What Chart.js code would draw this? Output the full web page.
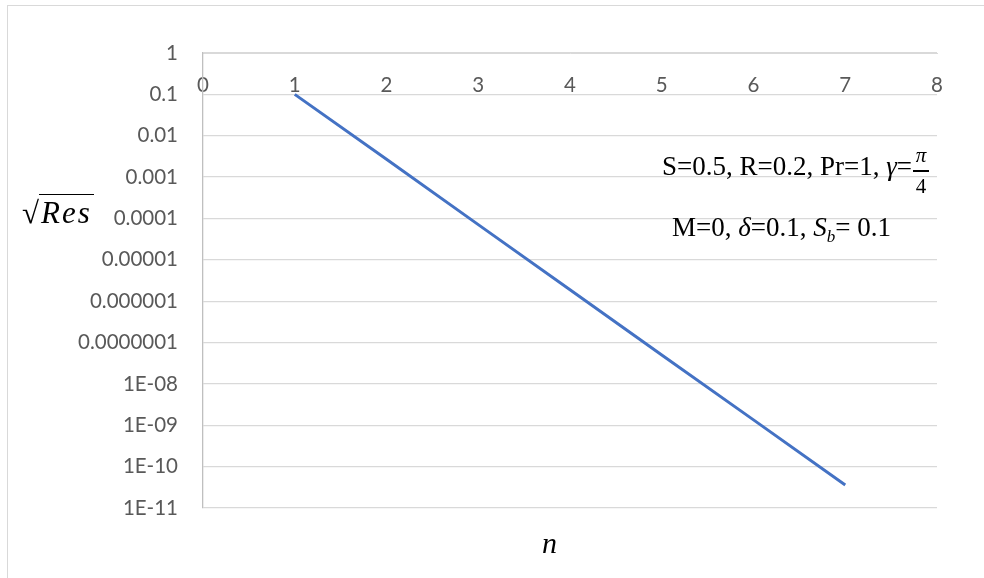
<!DOCTYPE html>
<html>
<head>
<meta charset="utf-8">
<script src="https://cdn.jsdelivr.net/npm/chart.js@4"></script>
<style>
  html, body { margin: 0; padding: 0; background: #fff; }
  #wrap { position: relative; width: 984px; height: 578px; overflow: hidden; }
  #frame { position: absolute; left: 7px; top: 5px; width: 1000px; height: 600px; border: 1px solid #d9d9d9; }
  #c { position: absolute; left: 0; top: 0; }
  .note { position: absolute; font-family: "Liberation Serif", serif; color: #000; white-space: nowrap; }
  .it { font-style: italic; }
  .frac { display: inline-block; position: relative; width: 16px; height: 0; vertical-align: baseline; margin-left: 1px; }
  .frac span { position: absolute; left: 0; width: 16px; text-align: center; font-size: 21px; line-height: 21px; }
  .frac .num { top: -30px; font-style: italic; }
  .frac .bar { top: -5px; height: 1.5px; background: #000; }
  .frac .den { top: 1px; }
</style>
</head>
<body>
<div id="wrap">
  <div id="frame"></div>
  <canvas id="c" width="984" height="578"></canvas>

  <div class="note" style="left:22px; top:197px; font-size:31px; line-height:31px;">√<span class="it" style="border-top:1.5px solid #000; padding:0 2px; letter-spacing:2px;">Res</span></div>

  <div class="note" style="left:662px; top:153px; font-size:27px; line-height:27px;">S=0.5, R=0.2, Pr=1, <span class="it">γ</span>=<span class="frac"><span class="num">π</span><span class="bar"></span><span class="den">4</span></span></div>

  <div class="note" style="left:672px; top:214px; font-size:27px; line-height:27px;">M=0, <span class="it">δ</span>=0.1, <span class="it">S<sub style="font-size:17px;">b</sub></span>= 0.1</div>

  <div class="note it" style="left:542px; top:528px; font-size:30px; line-height:30px;">n</div>
</div>

<script>
// sqrt(Res) against n, log scale on y
const nValues = [1, 2, 3, 4, 5, 6, 7];
const resValues = [0.1, 2.7e-3, 7.1e-5, 1.9e-6, 5.0e-8, 1.35e-9, 3.6e-11];

const xTickValues = [0, 1, 2, 3, 4, 5, 6, 7, 8];
const yTickValues = [1, 0.1, 0.01, 0.001, 1e-4, 1e-5, 1e-6, 1e-7, 1e-8, 1e-9, 1e-10, 1e-11];
const yTickLabels = ["1", "0.1", "0.01", "0.001", "0.0001", "0.00001", "0.000001",
  "0.0000001", "1E-08", "1E-09", "1E-10", "1E-11"];

const tickFont = { family: "Lato", size: 20.5 };
const tickColor = "#595959";
const gridColor = "#d9d9d9";

const ctx = document.getElementById("c");

new Chart(ctx, {
  type: "line",
  data: {
    datasets: [
      {
        data: nValues.map((n, i) => ({ x: n, y: resValues[i] })),
        borderColor: "#4472c4",
        borderWidth: 3,
        pointRadius: 0,
        tension: 0,
        fill: false,
      },
    ],
  },
  options: {
    responsive: false,
    animation: false,
    layout: { padding: { left: 0, right: 47, top: 53, bottom: 70 } },
    plugins: {
      legend: { display: false },
      tooltip: { enabled: false },
    },
    scales: {
      x: {
        type: "linear",
        min: 0,
        max: 8,
        position: { y: 1 },
        afterBuildTicks: (scale) => {
          scale.ticks = xTickValues.map((v) => ({ value: v }));
        },
        grid: { display: false, drawTicks: false },
        border: { display: true, color: gridColor },
        ticks: { padding: 20, font: tickFont, color: tickColor, maxRotation: 0, autoSkip: false },
      },
      y: {
        type: "logarithmic",
        min: 1e-11,
        max: 1,
        position: "left",
        afterBuildTicks: (scale) => {
          scale.ticks = yTickValues.map((v) => ({ value: v }));
        },
        afterFit: (scale) => {
          scale.width = 203;
        },
        grid: { color: gridColor, lineWidth: 1.3, drawTicks: false },
        border: { display: true, color: "#bfbfbf", width: 1.3 },
        ticks: {
          padding: 25,
          autoSkip: false,
          font: tickFont,
          color: tickColor,
          callback: function (value) {
            const i = yTickValues.findIndex((t) => Math.abs(Math.log10(t) - Math.log10(value)) < 1e-6);
            return i >= 0 ? yTickLabels[i] : "";
          },
        },
      },
    },
  },
});
</script>
</body>
</html>
